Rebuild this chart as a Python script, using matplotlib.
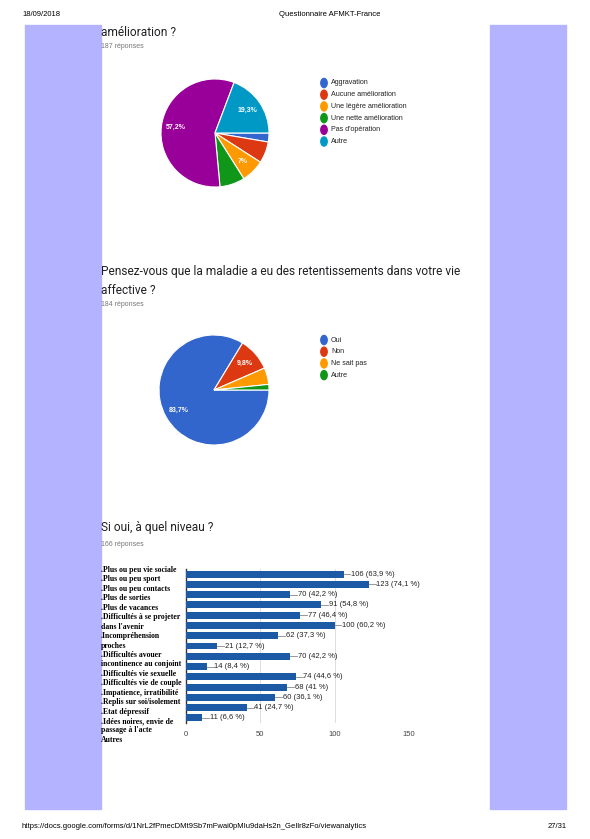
import matplotlib
matplotlib.use("Agg")
import matplotlib.pyplot as plt
from matplotlib.patches import Rectangle

W, H = 590, 839

# ---- données ----
pie1_labels = ["Aggravation", "Aucune amélioration", "Une légère amélioration",
               "Une nette amélioration", "Pas d'opération", "Autre"]
pie1_counts = [5, 12, 13, 14, 107, 36]
pie1_shown = ["", "", "7%", "", "57,2%", "19,3%"]
pie1_colors = ["#3366cc", "#dc3912", "#ff9900", "#109618", "#990099", "#0099c6"]

pie2_labels = ["Oui", "Non", "Ne sait pas", "Autre"]
pie2_counts = [154, 18, 9, 3]
pie2_shown = ["83,7%", "9,8%", "", ""]
pie2_colors = ["#3366cc", "#dc3912", "#ff9900", "#109618"]

bar_categories = [
    ".Plus ou peu vie sociale",
    ".Plus ou peu sport",
    ".Plus ou peu contacts",
    ".Plus de sorties",
    ".Plus de vacances",
    ".Difficultés à se projeter\ndans l'avenir",
    ".Incompréhension\nproches",
    ".Difficultés avouer\nincontinence au conjoint",
    ".Difficultés vie sexuelle",
    ".Difficultés vie de couple",
    ".Impatience, irratibilité",
    ".Replis sur soi/isolement",
    ".Etat dépressif",
    ".Idées noires, envie de\npassage à l'acte",
    "Autres",
]
bar_values = [106, 123, 70, 91, 77, 100, 62, 21, 70, 14, 74, 68, 60, 41, 11]
bar_pcts = ["63,9", "74,1", "42,2", "54,8", "46,4", "60,2", "37,3", "12,7",
            "42,2", "8,4", "44,6", "41", "36,1", "24,7", "6,6"]
bar_ticks = [0, 50, 100, 150]


def fx(x):
    return x / W


def fy(y):
    return 1 - y / H


def axes_px(fig, left, top, width, height):
    return fig.add_axes([fx(left), fy(top + height), width / W, height / H])


fig = plt.figure(figsize=(W / 100, H / 100), dpi=100)
fig.patch.set_facecolor("white")

# bandes violettes sur les côtés
for x0, x1 in [(25, 101), (490, 566)]:
    fig.patches.append(Rectangle((fx(x0), fy(809)), (x1 - x0) / W, (809 - 25) / H,
                                 transform=fig.transFigure, color="#b3b3ff",
                                 zorder=0))

sans = "Liberation Sans"
title_font = "Roboto"

# entête et pied de page
fig.text(fx(22), fy(14), "18/09/2018", fontsize=5.5, family=sans, va="center")
fig.text(fx(330), fy(14), "Questionnaire AFMKT-France", fontsize=5.5, family=sans,
         va="center", ha="center")
fig.text(fx(22), fy(826), "https://docs.google.com/forms/d/1NrL2fPmecDMt9Sb7mFwai0pMIu9daHs2n_GeIlr8zFo/viewanalytics",
         fontsize=5.5, family=sans, va="center")
fig.text(fx(567), fy(826), "27/31", fontsize=5.5, family=sans, va="center", ha="right")

# titres
title_kw = dict(fontsize=8.6, family=title_font, va="center", color="#202124")
fig.text(fx(101), fy(32), "amélioration ?", **title_kw)
fig.text(fx(101), fy(47), "187 réponses", fontsize=5, family=sans, color="#777777", va="center")
fig.text(fx(101), fy(272), "Pensez-vous que la maladie a eu des retentissements dans votre vie",
         **title_kw)
fig.text(fx(101), fy(290), "affective ?", **title_kw)
fig.text(fx(101), fy(305), "184 réponses", fontsize=5, family=sans, color="#777777", va="center")
fig.text(fx(101), fy(528), "Si oui, à quel niveau ?", **title_kw)
fig.text(fx(101), fy(545), "166 réponses", fontsize=5, family=sans, color="#777777", va="center")


def draw_pie(cx, cy, r, counts, colors, shown, labels, leg_y):
    ax = axes_px(fig, cx - r, cy - r, 2 * r, 2 * r)
    wedges, _, autotexts = ax.pie(counts, colors=colors, startangle=0, counterclock=False,
                                  autopct=lambda p: "", pctdistance=0.74,
                                  wedgeprops=dict(edgecolor="white", linewidth=0.8))
    for t, s in zip(autotexts, shown):
        t.set_text(s)
        t.set_color("white")
        t.set_fontsize(5)
        t.set_fontweight("bold")
        t.set_family(sans)
    ax.set_xlim(-1, 1)
    ax.set_ylim(-1, 1)
    ax.set_aspect("equal")
    ax.axis("off")
    # légende
    for i, (lab, col) in enumerate(zip(labels, colors)):
        y = leg_y + i * 11.7
        fig.patches.append(plt.Circle((fx(324), fy(y)), 3.2 / W, color=col,
                                      transform=fig.transFigure))
        fig.text(fx(331), fy(y), lab, fontsize=5.1, family=sans, va="center", color="#222222")


draw_pie(215, 133, 54, pie1_counts, pie1_colors, pie1_shown, pie1_labels, 83)
draw_pie(214, 390, 55, pie2_counts, pie2_colors, pie2_shown, pie2_labels, 340)

# ---- barres ----
ax = axes_px(fig, 186, 569, 223, 154)
y_pos = list(range(len(bar_values)))
ax.barh(y_pos, bar_values, height=0.68, color="#1c5aa6", zorder=3)
for y, v, p in zip(y_pos, bar_values, bar_pcts):
    ax.plot([v, v + 4.5], [y, y], color="#888888", linewidth=0.6, zorder=3)
    ax.text(v + 5, y, f"{v} ({p} %)", fontsize=5.5, family=sans, va="center",
            color="#222222")
ax.set_ylim(len(bar_values) - 0.5, -0.5)
ax.set_xlim(0, 150)
ax.set_xticks(bar_ticks)
ax.set_xticklabels([str(t) for t in bar_ticks], fontsize=5.5, family=sans, color="#444444")
ax.set_yticks([])
ax.tick_params(axis="x", length=0, pad=6)
ax.grid(axis="x", color="#dddddd", linewidth=0.7, zorder=0)
for s in ["top", "right", "bottom"]:
    ax.spines[s].set_visible(False)
ax.spines["left"].set_color("#333333")
ax.spines["left"].set_linewidth(1)
ax.set_facecolor("none")

# étiquettes de gauche (bloc de texte)
fig.text(fx(101), fy(566), "\n".join(bar_categories), fontsize=5.6,
         family="Liberation Serif", fontweight="bold", va="top", ha="left",
         linespacing=1.24)

fig.savefig("out.png", dpi=100)
